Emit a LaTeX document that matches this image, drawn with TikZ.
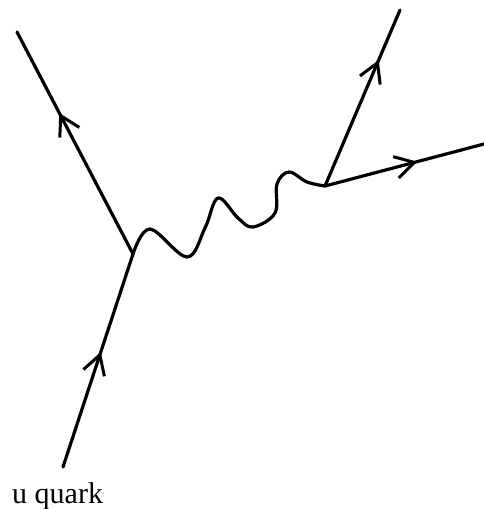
\documentclass[tikz,border=0pt]{standalone}
\usepackage{fontspec}
\setmainfont{Liberation Serif}
\usetikzlibrary{arrows.meta,decorations.markings}
\tikzset{
  fermion/.style={line width=3.2pt, line cap=round,
    postaction={decorate, decoration={markings,
      mark=at position #1 with {\arrow[line width=3pt]{Straight Barb[length=19pt,width=22pt]}}}}},
  boson/.style={line width=3.2pt, line cap=round, line join=round}
}
\begin{document}
\begin{tikzpicture}[x=1pt,y=1pt]
\useasboundingbox (0,0) rectangle (484,-509);
\coordinate (A) at (133,-254);
\coordinate (B) at (325,-186);
\coordinate (inq) at (63,-467);
\coordinate (outl) at (17,-32);
\coordinate (outt) at (400,-10);
\coordinate (outr) at (484,-144);
\draw[fermion=0.54] (inq) -- (A);
\draw[fermion=0.635] (A) -- (outl);
\draw[fermion=0.716] (B) -- (outt);
\draw[fermion=0.58] (B) -- (outr);
\draw[boson] plot[smooth, tension=0.6] coordinates {(A) (150,-229) (187,-257) (205,-228) (218,-198) (238,-218) (253,-227) (275,-213) (277,-184) (289,-172) (307,-182) (B)};
\node[anchor=base west, font=\fontsize{30}{34}\selectfont, inner sep=0pt] (lbl) at (12,-503) {u quark};
\end{tikzpicture}
\end{document}
